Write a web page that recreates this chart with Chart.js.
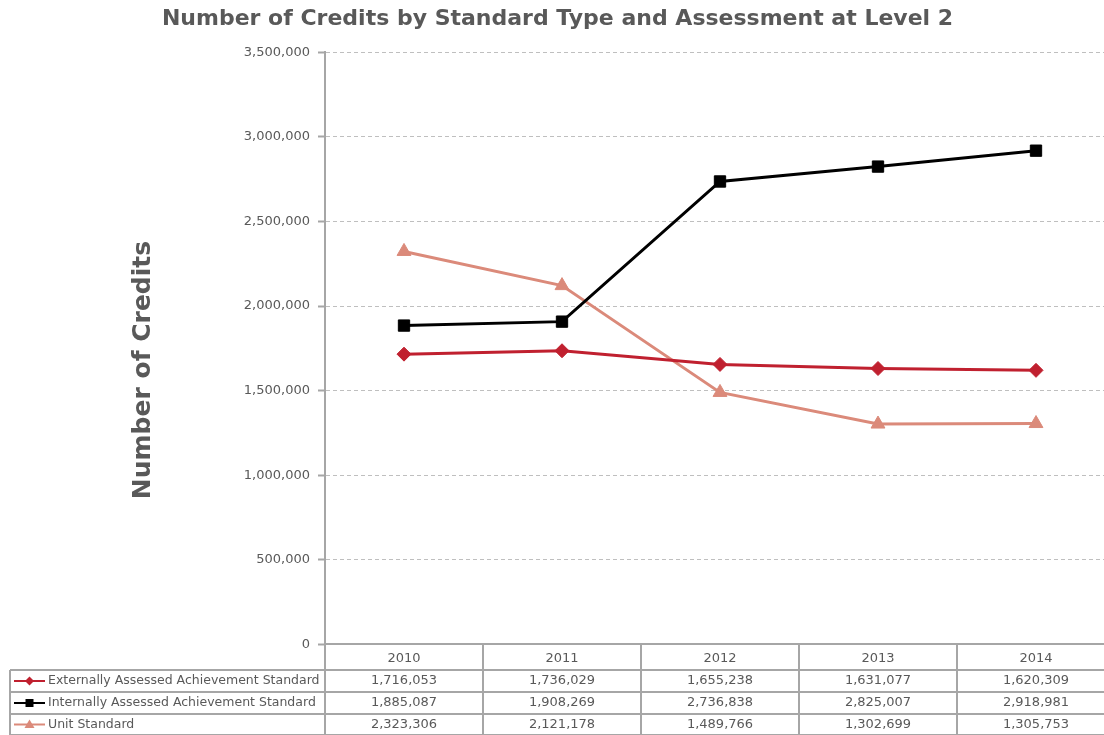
<!DOCTYPE html>
<html>
<head>
<meta charset="utf-8">
<title>Number of Credits by Standard Type and Assessment at Level 2</title>
<script src="https://cdn.jsdelivr.net/npm/chart.js@4.4.1/dist/chart.umd.min.js"></script>
<style>
  html, body { margin: 0; padding: 0; background: #fff; overflow: hidden; }
  #chart { display: block; }
</style>
</head>
<body>
<canvas id="chart" width="1116" height="735"></canvas>
<script>
// years and credit counts per standard type
const years = ["2010", "2011", "2012", "2013", "2014"];
const externalCredits = [1716053, 1736029, 1655238, 1631077, 1620309];
const internalCredits = [1885087, 1908269, 2736838, 2825007, 2918981];
const unitCredits = [2323306, 2121178, 1489766, 1302699, 1305753];

const seriesNames = [
  "Externally Assessed Achievement Standard",
  "Internally Assessed Achievement Standard",
  "Unit Standard"
];
const yTicks = [0, 500000, 1000000, 1500000, 2000000, 2500000, 3000000, 3500000];

const FONT = "'DejaVu Sans', Verdana, sans-serif";
const TEXT = "#595959";
const LINE_GRAY = "#a6a6a6";

function fmt(n) {
  return n.toLocaleString("en-US");
}

// draws a marker the same way as on the plot lines
function marker(ctx, style, x, y, color) {
  ctx.save();
  ctx.fillStyle = color;
  ctx.beginPath();
  if (style === "rect") {
    ctx.rect(x - 4, y - 4, 8, 8);
  } else if (style === "rectRot") {
    ctx.moveTo(x, y - 4.5);
    ctx.lineTo(x + 4.5, y);
    ctx.lineTo(x, y + 4.5);
    ctx.lineTo(x - 4.5, y);
    ctx.closePath();
  } else {
    ctx.moveTo(x, y - 5);
    ctx.lineTo(x + 5, y + 3.5);
    ctx.lineTo(x - 5, y + 3.5);
    ctx.closePath();
  }
  ctx.fill();
  ctx.restore();
}

// vertical axis title, placed lower than the plot centre
const axisTitle = {
  id: "axisTitle",
  afterDraw(chart) {
    const ctx = chart.ctx;
    ctx.save();
    ctx.translate(143, 370);
    ctx.rotate(-Math.PI / 2);
    ctx.font = "bold 25px " + FONT;
    ctx.fillStyle = TEXT;
    ctx.textAlign = "center";
    ctx.textBaseline = "middle";
    ctx.fillText("Number of Credits", 0, 0);
    ctx.restore();
  }
};

// data table below the plot, with the legend keys in the first column
const dataTable = {
  id: "dataTable",
  afterDraw(chart) {
    const ctx = chart.ctx;
    const xs = chart.scales.x;
    const area = chart.chartArea;
    const step = xs.getPixelForValue(1) - xs.getPixelForValue(0);
    const rows = [area.bottom, 670, 692, 714, 735];
    const left = 10;

    ctx.save();
    ctx.strokeStyle = LINE_GRAY;
    ctx.lineWidth = 2;
    ctx.beginPath();
    // column borders
    for (let i = 0; i <= years.length; i++) {
      const x = Math.round(xs.getPixelForValue(i) - step / 2);
      ctx.moveTo(x, area.bottom);
      ctx.lineTo(x, 735);
    }
    ctx.moveTo(left, rows[1]);
    ctx.lineTo(left, 735);
    // row borders
    for (let r = 1; r < rows.length; r++) {
      ctx.moveTo(left, rows[r]);
      ctx.lineTo(area.right, rows[r]);
    }
    ctx.stroke();

    ctx.textBaseline = "middle";
    chart.data.datasets.forEach(function (ds, i) {
      const cy = (rows[i + 1] + rows[i + 2]) / 2;
      // legend key
      ctx.strokeStyle = ds.borderColor;
      ctx.lineWidth = 2;
      ctx.beginPath();
      ctx.moveTo(14, cy);
      ctx.lineTo(45, cy);
      ctx.stroke();
      marker(ctx, ds.pointStyle, 29.5, cy, ds.borderColor);
      ctx.fillStyle = TEXT;
      ctx.textAlign = "left";
      ctx.font = "12.5px " + FONT;
      ctx.fillText(ds.label, 48, cy);
      // values
      ctx.textAlign = "center";
      ctx.font = "13px " + FONT;
      ds.data.forEach(function (v, j) {
        ctx.fillText(fmt(v), xs.getPixelForValue(j), cy);
      });
    });
    ctx.restore();
  }
};

const config = {
  type: "line",
  data: {
    labels: years,
    datasets: [
      {
        label: seriesNames[0],
        data: externalCredits,
        borderColor: "#c0202f",
        backgroundColor: "#c0202f",
        pointStyle: "rectRot",
        pointRadius: 7,
        pointBorderWidth: 1,
        borderWidth: 3
      },
      {
        label: seriesNames[1],
        data: internalCredits,
        borderColor: "#000000",
        backgroundColor: "#000000",
        pointStyle: "rect",
        pointRadius: 8,
        pointBorderWidth: 1,
        borderWidth: 3
      },
      {
        label: seriesNames[2],
        data: unitCredits,
        borderColor: "#db8a7a",
        backgroundColor: "#db8a7a",
        pointStyle: "triangle",
        pointRadius: 8,
        pointBorderWidth: 1,
        borderWidth: 3
      }
    ]
  },
  options: {
    responsive: false,
    animation: false,
    layout: { autoPadding: false, padding: { left: 0, right: 1, top: 0, bottom: 63 } },
    plugins: {
      legend: { display: false },
      tooltip: { enabled: false },
      title: {
        display: true,
        text: "Number of Credits by Standard Type and Assessment at Level 2",
        color: TEXT,
        font: { family: FONT, size: 22, weight: "bold" },
        padding: { top: 6, bottom: 20 }
      }
    },
    scales: {
      x: {
        type: "category",
        offset: true,
        grid: { display: false, drawTicks: false },
        border: { display: true, color: LINE_GRAY, width: 2 },
        ticks: {
          color: TEXT,
          font: { family: FONT, size: 13 },
          padding: 6
        }
      },
      y: {
        min: 0,
        max: 3500000,
        afterBuildTicks(scale) {
          scale.ticks = yTicks.map(function (v) { return { value: v }; });
        },
        afterFit(scale) {
          scale.width = 325;
        },
        grid: {
          color: "#bfbfbf",
          lineWidth: 1,
          tickLength: 7,
          tickColor: LINE_GRAY,
          tickBorderDash: [],
          tickWidth: 2
        },
        border: { display: true, color: LINE_GRAY, width: 2, dash: [4, 3] },
        ticks: {
          color: TEXT,
          font: { family: FONT, size: 13 },
          padding: 8,
          callback: function (v) { return fmt(v); }
        }
      }
    }
  },
  plugins: [dataTable, axisTitle]
};

new Chart(document.getElementById("chart"), config);
</script>
</body>
</html>
